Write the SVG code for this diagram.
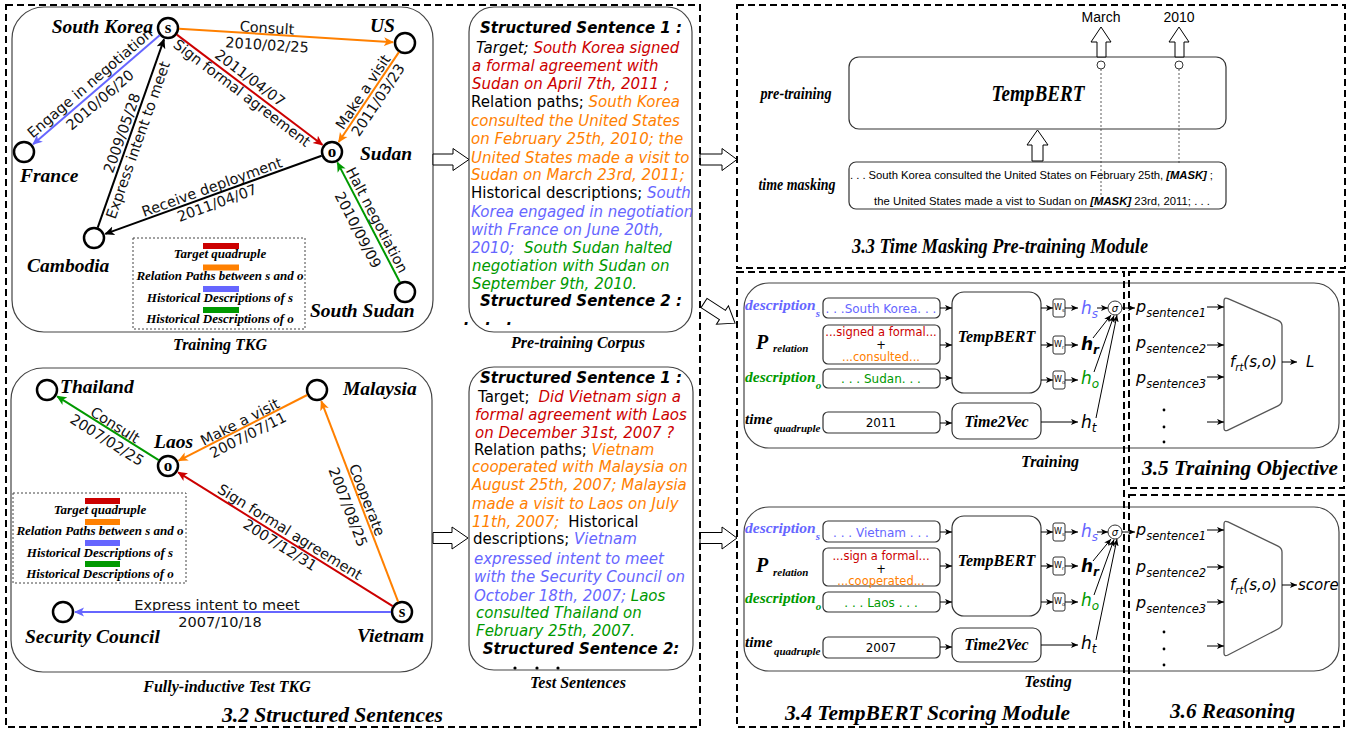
<svg xmlns="http://www.w3.org/2000/svg" width="1357" height="734" viewBox="0 0 1357 734">
<defs>
<style>
.sec{fill:none;stroke:#000;stroke-width:2;stroke-dasharray:7 4}
.panel{fill:#fff;stroke:#444;stroke-width:1.2}
.node{fill:#fff;stroke:#000;stroke-width:2.5}
.nl{font-family:"Liberation Serif",serif;font-weight:bold;font-style:italic;font-size:19.5px;fill:#000}
.nc{font-family:"Liberation Serif",serif;font-weight:bold;font-size:17px;text-anchor:middle}
.el{font-family:"DejaVu Sans",sans-serif;font-size:14.5px;text-anchor:middle;fill:#111}
.leg{font-family:"Liberation Serif",serif;font-weight:bold;font-style:italic;font-size:13px;text-anchor:middle}
.legbox{fill:none;stroke:#444;stroke-width:1;stroke-dasharray:2 2}
.cap{font-family:"Liberation Serif",serif;font-weight:bold;font-style:italic;font-size:16px;text-anchor:middle}
.title{font-family:"Liberation Serif",serif;font-weight:bold;font-style:italic;font-size:22px}
.sent{font-family:"DejaVu Sans",sans-serif;font-size:15px;fill:#000}
.ss{font-family:"DejaVu Sans",sans-serif;font-size:15px;font-weight:bold;font-style:italic;text-anchor:middle}
.it{font-style:italic}
.r{fill:#cc0000}.o{fill:#ff8000}.b{fill:#6666ff}.g{fill:#009900}
.e{fill:none;stroke-width:2}
.er{stroke:#cc0000}.eo{stroke:#ff8000}.eb{stroke:#6666ff}.eg{stroke:#009900}.ek{stroke:#000}
.hollow{fill:#fff;stroke:#000;stroke-width:1}
.box{fill:#fff;stroke:#333;stroke-width:1.2}
.bt{font-family:"DejaVu Sans",sans-serif;font-size:12px;text-anchor:middle}
.bt2{font-family:"DejaVu Sans",sans-serif;font-size:11.5px;text-anchor:middle}
.lab{font-family:"Liberation Serif",serif;font-weight:bold;font-style:italic;font-size:15.5px}
.labs{font-family:"Liberation Serif",serif;font-weight:bold;font-style:italic;font-size:11px}
.labp{font-family:"Liberation Serif",serif;font-weight:bold;font-style:italic;font-size:20px}
.mod{font-family:"Liberation Serif",serif;font-weight:bold;font-style:italic;font-size:16px;text-anchor:middle}
.h{font-family:"DejaVu Sans",sans-serif;font-style:italic;font-size:17px}
.fx{font-family:"DejaVu Sans",sans-serif;font-style:italic;font-size:15px}
.px{font-family:"DejaVu Sans",sans-serif;font-style:italic;font-size:16px}
.sm{fill:none;stroke:#000;stroke-width:1}
.wb{fill:#fff;stroke:#333;stroke-width:1}
.wt{font-family:"DejaVu Sans",sans-serif;font-size:8px}
.mask{font-family:"Liberation Sans",sans-serif;font-size:11.3px}
.mk{font-weight:bold;font-style:italic}
.dot{fill:none;stroke:#333;stroke-width:0.8;stroke-dasharray:2 2}
.trap{fill:#fff;stroke:#555;stroke-width:1.3;stroke-linejoin:round}
</style>
<marker id="aR" viewBox="0 0 10 10" refX="9" refY="5" markerWidth="10" markerHeight="10" markerUnits="userSpaceOnUse" orient="auto"><path d="M0,0.5 L10,5 L0,9.5 L2.5,5 z" fill="#cc0000"/></marker>
<marker id="aO" viewBox="0 0 10 10" refX="9" refY="5" markerWidth="10" markerHeight="10" markerUnits="userSpaceOnUse" orient="auto"><path d="M0,0.5 L10,5 L0,9.5 L2.5,5 z" fill="#ff8000"/></marker>
<marker id="aB" viewBox="0 0 10 10" refX="9" refY="5" markerWidth="10" markerHeight="10" markerUnits="userSpaceOnUse" orient="auto"><path d="M0,0.5 L10,5 L0,9.5 L2.5,5 z" fill="#6666ff"/></marker>
<marker id="aG" viewBox="0 0 10 10" refX="9" refY="5" markerWidth="10" markerHeight="10" markerUnits="userSpaceOnUse" orient="auto"><path d="M0,0.5 L10,5 L0,9.5 L2.5,5 z" fill="#009900"/></marker>
<marker id="aK" viewBox="0 0 10 10" refX="9" refY="5" markerWidth="10" markerHeight="10" markerUnits="userSpaceOnUse" orient="auto"><path d="M0,0.5 L10,5 L0,9.5 L2.5,5 z" fill="#000"/></marker>
<marker id="sa" viewBox="0 0 8 8" refX="8" refY="4" markerWidth="7" markerHeight="7" markerUnits="userSpaceOnUse" orient="auto"><path d="M0,0.5 L8,4 L0,7.5 L2,4 z" fill="#000"/></marker>
<clipPath id="testclip"><rect x="469" y="367" width="224" height="303" rx="25"/></clipPath>
</defs>

<rect width="1357" height="734" fill="#fff"/>

<!-- ========== Training TKG panel ========== -->
<g id="training-tkg">
<rect class="panel" x="12" y="7" width="421" height="325" rx="32"/>
<g id="tkg-legend">
<rect class="legbox" x="133" y="238" width="172" height="91"/>
<rect x="203" y="243" width="36" height="6" fill="#cc0000"/>
<text class="leg" x="220" y="258">Target quadruple</text>
<rect x="203" y="264.5" width="36" height="6" fill="#ff8000"/>
<text class="leg" x="220" y="280">Relation Paths between s and o</text>
<rect x="203" y="286" width="36" height="6" fill="#6666ff"/>
<text class="leg" x="220" y="302">Historical Descriptions of s</text>
<rect x="203" y="307" width="36" height="6" fill="#009900"/>
<text class="leg" x="220" y="323">Historical Descriptions of o</text>
</g>
<text class="cap" x="220" y="350">Training TKG</text>
</g>

<!-- ========== Test TKG panel ========== -->
<g id="test-tkg">
<rect class="panel" x="11" y="368" width="421" height="304" rx="32"/>
<g id="test-legend">
<rect class="legbox" x="13" y="493" width="173" height="90"/>
<rect x="85" y="498" width="35" height="6" fill="#cc0000"/>
<text class="leg" x="100" y="514">Target quadruple</text>
<rect x="85" y="519" width="35" height="6" fill="#ff8000"/>
<text class="leg" x="100" y="535">Relation Paths between s and o</text>
<rect x="85" y="540" width="35" height="6" fill="#6666ff"/>
<text class="leg" x="100" y="557">Historical Descriptions of s</text>
<rect x="85" y="561" width="35" height="6" fill="#009900"/>
<text class="leg" x="100" y="578">Historical Descriptions of o</text>
</g>
<text class="cap" x="227" y="692">Fully-inductive Test TKG</text>
</g>

<!-- edge labels training graph -->
<g id="train-edge-labels">
<text class="el" transform="translate(267,28) rotate(3.6)" y="5">Consult</text>
<text class="el" transform="translate(267,45) rotate(3.6)" y="5">2010/02/25</text>
<text class="el" transform="translate(242,93) rotate(37.1)" y="5">Sign formal agreement</text>
<text class="el" transform="translate(250,78) rotate(37.1)" y="5">2011/04/07</text>
<text class="el" transform="translate(363,92) rotate(-56.2)" y="5">Make a visit</text>
<text class="el" transform="translate(378,100) rotate(-56.2)" y="5">2011/03/23</text>
<text class="el" transform="translate(90,83) rotate(-40.7)" y="5">Engage in negotiation</text>
<text class="el" transform="translate(100,100) rotate(-40.7)" y="5">2010/06/20</text>
<text class="el" transform="translate(138,140) rotate(-70.6)" y="5">Express intent to meet</text>
<text class="el" transform="translate(122,133) rotate(-70.6)" y="5">2009/05/28</text>
<text class="el" transform="translate(212,187) rotate(-19.9)" y="5">Receive deployment</text>
<text class="el" transform="translate(217,203) rotate(-19.9)" y="5">2011/04/07</text>
<text class="el" transform="translate(377,220) rotate(62.5)" y="5">Halt negotiation</text>
<text class="el" transform="translate(358,230) rotate(62.5)" y="5">2010/09/09</text>
</g>
<!-- edge labels test graph -->
<g id="test-edge-labels">
<text class="el" transform="translate(115,425) rotate(32.1)" y="5">Consult</text>
<text class="el" transform="translate(107,440) rotate(32.1)" y="5">2007/02/25</text>
<text class="el" transform="translate(240,422) rotate(-27)" y="5">Make a visit</text>
<text class="el" transform="translate(248,435) rotate(-27)" y="5">2007/07/11</text>
<text class="el" transform="translate(367,500) rotate(69)" y="5">Cooperate</text>
<text class="el" transform="translate(348,507) rotate(69)" y="5">2007/08/25</text>
<text class="el" transform="translate(290,532) rotate(32)" y="5">Sign formal agreement</text>
<text class="el" transform="translate(280,545) rotate(32)" y="5">2007/12/31</text>
<text class="el" transform="translate(217,605)" y="5">Express intent to meet</text>
<text class="el" transform="translate(220,622)" y="5">2007/10/18</text>
</g>

<!-- training graph nodes -->
<g id="n-south-korea"><circle class="node" cx="168" cy="28" r="10"/><text class="nc" x="168" y="33">s</text><text class="nl" x="153" y="33" text-anchor="end">South Korea</text></g>
<g id="n-us"><circle class="node" cx="405" cy="43" r="10"/><text class="nl" x="370" y="32">US</text></g>
<g id="n-sudan"><circle class="node" cx="332" cy="152" r="10"/><text class="nc" x="332" y="157">o</text><text class="nl" x="360" y="160">Sudan</text></g>
<g id="n-france"><circle class="node" cx="24" cy="152" r="10"/><text class="nl" x="20" y="182">France</text></g>
<g id="n-cambodia"><circle class="node" cx="94" cy="238" r="10"/><text class="nl" x="27" y="272">Cambodia</text></g>
<g id="n-south-sudan"><circle class="node" cx="405" cy="292" r="10"/><text class="nl" x="310" y="317">South Sudan</text></g>

<!-- test graph nodes -->
<g id="n-thailand"><circle class="node" cx="47" cy="390" r="10"/><text class="nl" x="60" y="393">Thailand</text></g>
<g id="n-malaysia"><circle class="node" cx="317" cy="390" r="10"/><text class="nl" x="343" y="395">Malaysia</text></g>
<g id="n-laos"><circle class="node" cx="168" cy="466" r="10"/><text class="nc" x="168" y="471">o</text><text class="nl" x="154" y="448">Laos</text></g>
<g id="n-security-council"><circle class="node" cx="63" cy="612" r="10"/><text class="nl" x="25" y="643">Security Council</text></g>
<g id="n-vietnam"><circle class="node" cx="402" cy="612" r="10"/><text class="nc" x="402" y="617">s</text><text class="nl" x="357" y="642">Vietnam</text></g>

<!-- ========== Pre-training corpus ========== -->
<g id="pretraining-corpus">
<rect class="panel" x="469" y="7" width="223" height="325" rx="25"/>
<text class="ss" x="581" y="33">Structured Sentence 1 :</text>
<text class="sent" x="476" y="53"><tspan class="it">Target; </tspan><tspan class="r it">South Korea signed</tspan></text>
<text class="sent r it" x="472" y="71">a formal agreement with</text>
<text class="sent r it" x="472" y="89">Sudan on April 7th, 2011 ;</text>
<text class="sent" x="471" y="107">Relation paths;<tspan class="o it"> South Korea</tspan></text>
<text class="sent o it" x="471" y="126">consulted the United States</text>
<text class="sent o it" x="471" y="144">on February 25th, 2010; the</text>
<text class="sent o it" x="471" y="163">United States made a visit to</text>
<text class="sent o it" x="471" y="180">Sudan on March 23rd, 2011;</text>
<text class="sent" x="471" y="198">Historical descriptions;<tspan class="b it"> South</tspan></text>
<text class="sent b it" x="471" y="217">Korea engaged in negotiation</text>
<text class="sent b it" x="471" y="235">with France on June 20th,</text>
<text class="sent" x="471" y="253"><tspan class="b it">2010; </tspan><tspan class="g it" dx="5">South Sudan halted</tspan></text>
<text class="sent g it" x="472" y="271">negotiation with Sudan on</text>
<text class="sent g it" x="472" y="289">September 9th, 2010.</text>
<text class="ss" x="581" y="306">Structured Sentence 2 :</text>
<text class="ss" x="488" y="325" text-anchor="start" xml:space="preserve">.   .   .</text>
<text class="cap" x="578" y="348">Pre-training Corpus</text>
</g>

<!-- ========== Test sentences ========== -->
<g id="test-sentences">
<rect class="panel" x="469" y="367" width="224" height="303" rx="25"/>
<text class="ss" x="581" y="383">Structured Sentence 1 :</text>
<text class="sent" x="478" y="402">Target;<tspan class="r it" dx="9">Did Vietnam sign a</tspan></text>
<text class="sent r it" x="475" y="420">formal agreement with Laos</text>
<text class="sent r it" x="475" y="438">on December 31st, 2007 ?</text>
<text class="sent" x="474" y="455">Relation paths;<tspan class="o it"> Vietnam</tspan></text>
<text class="sent o it" x="472" y="472">cooperated with Malaysia on</text>
<text class="sent o it" x="472" y="490">August 25th, 2007; Malaysia</text>
<text class="sent o it" x="472" y="509">made a visit to Laos on July</text>
<text class="sent" x="472" y="527"><tspan class="o it">11th, 2007;</tspan><tspan dx="9">Historical</tspan></text>
<text class="sent" x="473" y="544">descriptions;<tspan class="b it"> Vietnam</tspan></text>
<text class="sent b it" x="474" y="564">expressed intent to meet</text>
<text class="sent b it" x="474" y="582">with the Security Council on</text>
<text class="sent" x="474" y="601"><tspan class="b it">October 18th, 2007; </tspan><tspan class="g it">Laos</tspan></text>
<text class="sent g it" x="476" y="618">consulted Thailand on</text>
<text class="sent g it" x="476" y="636">February 25th, 2007.</text>
<text class="ss" x="581" y="654">Structured Sentence 2:</text>
<g clip-path="url(#testclip)"><circle cx="515" cy="668" r="1.6"/><circle cx="537" cy="668" r="1.6"/><circle cx="558" cy="668" r="1.6"/></g>
<text class="cap" x="578" y="688">Test Sentences</text>
</g>

<!-- ========== 3.3 Time masking ========== -->
<g id="time-masking-module">
<text class="mod" x="796" y="99" style="font-size:17px" textLength="71" lengthAdjust="spacingAndGlyphs">pre-training</text>
<text class="mod" x="797" y="190" style="font-size:17px" textLength="77" lengthAdjust="spacingAndGlyphs">time masking</text>
<g id="tempbert-pre">
<rect class="box" x="849" y="57" width="377" height="72" rx="10"/>
<text class="mod" x="1038" y="101" style="font-size:23px" textLength="93" lengthAdjust="spacingAndGlyphs">TempBERT</text>
</g>
<text x="1101" y="22" font-family="Liberation Sans, sans-serif" font-size="14" text-anchor="middle">March</text>
<text x="1179" y="22" font-family="Liberation Sans, sans-serif" font-size="14" text-anchor="middle">2010</text>
<g id="masked-input">
<rect class="box" x="849" y="162" width="377" height="47" rx="7"/>
<text class="mask" x="850" y="179" textLength="363" lengthAdjust="spacing">. . . South Korea consulted the United States on February 25th, <tspan class="mk">[MASK]</tspan> ;</text>
<text class="mask" x="874" y="205" textLength="336" lengthAdjust="spacing">the United States made a vist to Sudan on <tspan class="mk">[MASK]</tspan> 23rd, 2011; . . .</text>
</g>
</g>

<!-- ========== 3.4 Training ========== -->
<g id="training-module">
<rect class="panel" x="744" y="283" width="595" height="165" rx="25"/>
<text class="lab b" x="745" y="310">description<tspan style="font-size:11px" dy="7">s</tspan></text>
<text class="labp" x="756" y="349">P</text>
<text class="labs" x="773" y="352">relation</text>
<text class="lab g" x="745" y="382">description<tspan style="font-size:11px" dy="7">o</tspan></text>
<text class="lab" x="745" y="424">time</text>
<text class="labs" x="774" y="432">quadruple</text>
<rect class="box" x="823" y="298" width="117" height="20" rx="5"/>
<text class="bt b" x="881" y="313">. . .South Korea. . .</text>
<rect class="box" x="823" y="325" width="117" height="39" rx="5"/>
<text class="bt2 r" x="881" y="336">...signed a formal...</text>
<text class="bt2" x="881" y="349">+</text>
<text class="bt2 o" x="881" y="361">...consulted...</text>
<rect class="box" x="823" y="369" width="117" height="19" rx="5"/>
<text class="bt g" x="881" y="383">. . . Sudan. . .</text>
<rect class="box" x="823" y="412" width="117" height="21" rx="5"/>
<text class="bt" x="881" y="427">2011</text>
<g id="tempbert-train"><rect class="box" x="952" y="292" width="89" height="101" rx="12"/><text class="mod" x="996.5" y="342">TempBERT</text></g>
<g id="time2vec-train"><rect class="box" x="952" y="403" width="89" height="36" rx="8"/><text class="mod" x="996.5" y="427">Time2Vec</text></g>
<rect class="wb" x="1053" y="299" width="12" height="18" rx="2"/><text class="wt" x="1054" y="310">W<tspan font-size="5" dy="2">s</tspan></text>
<rect class="wb" x="1053" y="336" width="12" height="18" rx="2"/><text class="wt" x="1054" y="347">W<tspan font-size="5" dy="2">r</tspan></text>
<rect class="wb" x="1053" y="371" width="12" height="18" rx="2"/><text class="wt" x="1054" y="382">W<tspan font-size="5" dy="2">o</tspan></text>
<text class="h b" x="1081" y="314">h<tspan font-size="12" dy="4">s</tspan></text>
<text class="h" x="1081" y="350" font-weight="bold">h<tspan font-size="12" dy="4">r</tspan></text>
<text class="h g" x="1081" y="384">h<tspan font-size="12" dy="4">o</tspan></text>
<text class="h" x="1081" y="428">h<tspan font-size="12" dy="4">t</tspan></text>
<circle cx="1115" cy="308" r="7" fill="#fff" stroke="#333" stroke-width="1"/>
<text x="1115" y="311.5" font-family="DejaVu Sans, sans-serif" font-style="italic" font-size="10" text-anchor="middle">σ</text>
<text class="mod" x="1050" y="467">Training</text>
</g>

<!-- ========== 3.4 Testing ========== -->
<g id="testing-module">
<rect class="panel" x="744" y="507" width="595" height="164" rx="25"/>
<text class="lab b" x="745" y="533">description<tspan style="font-size:11px" dy="7">s</tspan></text>
<text class="labp" x="756" y="572">P</text>
<text class="labs" x="773" y="576">relation</text>
<text class="lab g" x="745" y="603">description<tspan style="font-size:11px" dy="7">o</tspan></text>
<text class="lab" x="745" y="647">time</text>
<text class="labs" x="774" y="655">quadruple</text>
<rect class="box" x="823" y="521" width="117" height="21" rx="5"/>
<text class="bt b" x="881" y="537">. . . Vietnam . . .</text>
<rect class="box" x="823" y="548" width="117" height="38" rx="5"/>
<text class="bt2 r" x="881" y="560">...sign a formal...</text>
<text class="bt2" x="881" y="573">+</text>
<text class="bt2 o" x="881" y="585">...cooperated...</text>
<rect class="box" x="823" y="592" width="117" height="20" rx="5"/>
<text class="bt g" x="881" y="607">. . . Laos . . .</text>
<rect class="box" x="823" y="637" width="117" height="21" rx="5"/>
<text class="bt" x="881" y="652">2007</text>
<g id="tempbert-test"><rect class="box" x="952" y="516" width="89" height="100" rx="12"/><text class="mod" x="996.5" y="566">TempBERT</text></g>
<g id="time2vec-test"><rect class="box" x="952" y="628" width="89" height="34" rx="8"/><text class="mod" x="996.5" y="650">Time2Vec</text></g>
<rect class="wb" x="1053" y="523" width="12" height="18" rx="2"/><text class="wt" x="1054" y="534">W<tspan font-size="5" dy="2">s</tspan></text>
<rect class="wb" x="1053" y="557" width="12" height="18" rx="2"/><text class="wt" x="1054" y="568">W<tspan font-size="5" dy="2">r</tspan></text>
<rect class="wb" x="1053" y="593" width="12" height="18" rx="2"/><text class="wt" x="1054" y="604">W<tspan font-size="5" dy="2">o</tspan></text>
<text class="h b" x="1081" y="537">h<tspan font-size="12" dy="4">s</tspan></text>
<text class="h" x="1081" y="572" font-weight="bold">h<tspan font-size="12" dy="4">r</tspan></text>
<text class="h g" x="1081" y="606">h<tspan font-size="12" dy="4">o</tspan></text>
<text class="h" x="1081" y="649">h<tspan font-size="12" dy="4">t</tspan></text>
<circle cx="1115" cy="532" r="7" fill="#fff" stroke="#333" stroke-width="1"/>
<text x="1115" y="535.5" font-family="DejaVu Sans, sans-serif" font-style="italic" font-size="10" text-anchor="middle">σ</text>
<text class="mod" x="1048" y="687">Testing</text>
</g>

<!-- ========== 3.5 Training objective ========== -->
<g id="training-objective">
<text class="px" x="1136" y="312">p<tspan font-size="11.5" dy="5">sentence1</tspan></text>
<text class="px" x="1136" y="348">p<tspan font-size="11.5" dy="5">sentence2</tspan></text>
<text class="px" x="1136" y="383">p<tspan font-size="11.5" dy="5">sentence3</tspan></text>
<circle cx="1164" cy="410" r="1.4"/><circle cx="1164" cy="427" r="1.4"/><circle cx="1164" cy="442" r="1.4"/>
<path class="trap" d="M1224,301 Q1224,297 1228,298.7 L1278,320.3 Q1282,322 1282,326 L1282,400 Q1282,404 1278,405.9 L1228,430.1 Q1224,432 1224,428 Z"/>
<text class="fx" x="1230" y="367">f<tspan font-size="10" dy="4">rt</tspan><tspan dy="-4">(s,o)</tspan></text>
<text class="fx" x="1306" y="367">L</text>
</g>

<!-- ========== 3.6 Reasoning ========== -->
<g id="reasoning">
<text class="px" x="1136" y="535">p<tspan font-size="11.5" dy="5">sentence1</tspan></text>
<text class="px" x="1136" y="572">p<tspan font-size="11.5" dy="5">sentence2</tspan></text>
<text class="px" x="1136" y="608">p<tspan font-size="11.5" dy="5">sentence3</tspan></text>
<circle cx="1164" cy="632" r="1.4"/><circle cx="1164" cy="649" r="1.4"/><circle cx="1164" cy="665" r="1.4"/>
<path class="trap" d="M1224,524 Q1224,520 1228,521.9 L1278,546.1 Q1282,548 1282,552 L1282,623 Q1282,627 1278,629 L1228,655 Q1224,657 1224,653 Z"/>
<text class="fx" x="1230" y="590">f<tspan font-size="10" dy="4">rt</tspan><tspan dy="-4">(s,o)</tspan></text>
<text class="fx" x="1298" y="590">score</text>
</g>

<!-- ========== Connectors ========== -->
<g id="connectors">
<!-- training graph edges -->
<line class="e eo" x1="179" y1="28.7" x2="393" y2="42.2" marker-end="url(#aO)"/>
<line class="e er" x1="176.8" y1="34.6" x2="322.4" y2="144.8" marker-end="url(#aR)"/>
<line class="e eo" x1="398.9" y1="52.1" x2="338.7" y2="142" marker-end="url(#aO)"/>
<line class="e eb" x1="159.7" y1="35.2" x2="33.1" y2="144.2" marker-end="url(#aB)"/>
<line class="e ek" x1="97.7" y1="227.6" x2="164" y2="39.3" marker-end="url(#aK)"/>
<line class="e ek" x1="321.6" y1="155.7" x2="105.3" y2="233.9" marker-end="url(#aK)"/>
<line class="e eg" x1="399.9" y1="282.2" x2="337.5" y2="162.6" marker-end="url(#aG)"/>
<!-- test graph edges -->
<line class="e eg" x1="158.7" y1="460.1" x2="57.2" y2="396.4" marker-end="url(#aG)"/>
<line class="e eo" x1="307.2" y1="395" x2="178.7" y2="460.6" marker-end="url(#aO)"/>
<line class="e eo" x1="398.1" y1="601.7" x2="321.3" y2="401.2" marker-end="url(#aO)"/>
<line class="e er" x1="392.7" y1="606.2" x2="178.2" y2="472.3" marker-end="url(#aR)"/>
<line class="e eb" x1="391" y1="612" x2="75" y2="612" marker-end="url(#aB)"/>

<!-- hollow block arrows between panels -->
<polygon class="hollow" points="433,154 453,154 453,148.5 469,159.5 453,170.5 453,165 433,165"/>
<polygon class="hollow" points="700,154 722,154 722,148.5 737,159.5 722,170.5 722,165 700,165"/>
<polygon class="hollow" points="433,532.5 452,532.5 452,527 468,538 452,549 452,543.5 433,543.5"/>
<polygon class="hollow" points="700,532.5 722,532.5 722,527 737,538 722,549 722,543.5 700,543.5"/>
<polygon class="hollow" transform="translate(704,303) rotate(33)" points="0,-5.5 22,-5.5 22,-11 37,0 22,11 22,5.5 0,5.5"/>

<!-- 3.3 block arrows and dotted links -->
<polygon class="hollow" points="1097,57 1097,42 1091,42 1101,27 1111,42 1106,42 1106,57"/>
<polygon class="hollow" points="1175,57 1175,42 1169,42 1179,27 1189,42 1184,42 1184,57"/>
<polygon class="hollow" points="1032,161 1032,145 1027,145 1037.5,130 1048,145 1043,145 1043,161"/>
<line class="dot" x1="1101" y1="69" x2="1101" y2="197"/>
<line class="dot" x1="1179" y1="69" x2="1179" y2="163"/>
<circle cx="1101" cy="65" r="4" fill="#fff" stroke="#333" stroke-width="1"/>
<circle cx="1179" cy="65" r="4" fill="#fff" stroke="#333" stroke-width="1"/>

<!-- training module arrows -->
<g class="sm">
<line x1="940" y1="308" x2="952" y2="308" marker-end="url(#sa)"/>
<line x1="940" y1="345" x2="952" y2="345" marker-end="url(#sa)"/>
<line x1="940" y1="378" x2="952" y2="378" marker-end="url(#sa)"/>
<line x1="940" y1="423" x2="952" y2="423" marker-end="url(#sa)"/>
<line x1="1041" y1="308" x2="1053" y2="308" marker-end="url(#sa)"/>
<line x1="1041" y1="345" x2="1053" y2="345" marker-end="url(#sa)"/>
<line x1="1041" y1="380" x2="1053" y2="380" marker-end="url(#sa)"/>
<line x1="1065" y1="308" x2="1078" y2="308" marker-end="url(#sa)"/>
<line x1="1065" y1="345" x2="1078" y2="345" marker-end="url(#sa)"/>
<line x1="1065" y1="380" x2="1078" y2="380" marker-end="url(#sa)"/>
<line x1="1041" y1="422" x2="1078" y2="422" marker-end="url(#sa)"/>
<line x1="1097" y1="308" x2="1108" y2="308" marker-end="url(#sa)"/>
<line x1="1093" y1="338" x2="1111" y2="315" marker-end="url(#sa)"/>
<line x1="1094" y1="372" x2="1114" y2="315.5" marker-end="url(#sa)"/>
<line x1="1096" y1="418" x2="1117" y2="315" marker-end="url(#sa)"/>
<line x1="1122" y1="308" x2="1135" y2="308" marker-end="url(#sa)"/>
<line x1="1207" y1="307" x2="1224" y2="307" marker-end="url(#sa)"/>
<line x1="1207" y1="345" x2="1224" y2="345" marker-end="url(#sa)"/>
<line x1="1207" y1="377" x2="1224" y2="377" marker-end="url(#sa)"/>
<line x1="1207" y1="422" x2="1224" y2="422" marker-end="url(#sa)"/>
<line x1="1282" y1="362" x2="1297" y2="362" marker-end="url(#sa)"/>
</g>
<!-- testing module arrows -->
<g class="sm">
<line x1="940" y1="532" x2="952" y2="532" marker-end="url(#sa)"/>
<line x1="940" y1="566" x2="952" y2="566" marker-end="url(#sa)"/>
<line x1="940" y1="602" x2="952" y2="602" marker-end="url(#sa)"/>
<line x1="940" y1="647" x2="952" y2="647" marker-end="url(#sa)"/>
<line x1="1041" y1="532" x2="1053" y2="532" marker-end="url(#sa)"/>
<line x1="1041" y1="566" x2="1053" y2="566" marker-end="url(#sa)"/>
<line x1="1041" y1="602" x2="1053" y2="602" marker-end="url(#sa)"/>
<line x1="1065" y1="532" x2="1078" y2="532" marker-end="url(#sa)"/>
<line x1="1065" y1="566" x2="1078" y2="566" marker-end="url(#sa)"/>
<line x1="1065" y1="602" x2="1078" y2="602" marker-end="url(#sa)"/>
<line x1="1041" y1="645" x2="1078" y2="645" marker-end="url(#sa)"/>
<line x1="1097" y1="532" x2="1108" y2="532" marker-end="url(#sa)"/>
<line x1="1093" y1="561" x2="1111" y2="539" marker-end="url(#sa)"/>
<line x1="1094" y1="595" x2="1114" y2="539.5" marker-end="url(#sa)"/>
<line x1="1096" y1="640" x2="1117" y2="539" marker-end="url(#sa)"/>
<line x1="1122" y1="532" x2="1135" y2="532" marker-end="url(#sa)"/>
<line x1="1207" y1="530" x2="1224" y2="530" marker-end="url(#sa)"/>
<line x1="1207" y1="567" x2="1224" y2="567" marker-end="url(#sa)"/>
<line x1="1207" y1="602" x2="1224" y2="602" marker-end="url(#sa)"/>
<line x1="1207" y1="646" x2="1224" y2="646" marker-end="url(#sa)"/>
<line x1="1282" y1="585" x2="1297" y2="585" marker-end="url(#sa)"/>
</g>
</g>

<!-- ========== Section frames and titles ========== -->
<g id="sections">
<rect class="sec" x="6" y="5" width="694" height="722"/>
<rect class="sec" x="737" y="5" width="608" height="263"/>
<rect class="sec" x="737" y="272" width="387" height="455"/>
<rect class="sec" x="1129" y="272" width="215" height="216"/>
<rect class="sec" x="1129" y="495" width="215" height="232"/>
<text class="title" x="222" y="722" textLength="221" lengthAdjust="spacingAndGlyphs">3.2 Structured Sentences</text>
<text class="title" x="852" y="253" textLength="296" lengthAdjust="spacingAndGlyphs">3.3 Time Masking Pre-training Module</text>
<text class="title" x="785" y="720" textLength="285" lengthAdjust="spacingAndGlyphs">3.4 TempBERT Scoring Module</text>
<text class="title" x="1142" y="475" textLength="196" lengthAdjust="spacingAndGlyphs">3.5 Training Objective</text>
<text class="title" x="1170" y="718" textLength="125" lengthAdjust="spacingAndGlyphs">3.6 Reasoning</text>
</g>
</svg>
